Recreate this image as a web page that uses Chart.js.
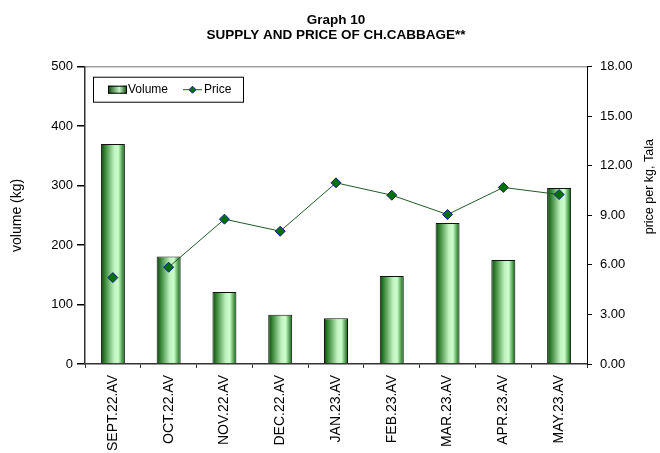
<!DOCTYPE html>
<html>
<head>
<meta charset="utf-8">
<title>Graph 10</title>
<script src="https://cdn.jsdelivr.net/npm/chart.js@4.4.1/dist/chart.umd.min.js"></script>
<style>
    body { margin: 0; background: #fff; }
    #wrap { width: 660px; height: 453px; position: relative; }
</style>
</head>
<body>
<div id="wrap"><canvas id="cabbageChart"></canvas></div>
<script>
var months = ['SEPT.22.AV', 'OCT.22.AV', 'NOV.22.AV', 'DEC.22.AV', 'JAN.23.AV', 'FEB.23.AV', 'MAR.23.AV', 'APR.23.AV', 'MAY.23.AV'];
var volumeKg = [370, 181, 121, 83, 77, 148, 237, 175, 296];
var priceTala = [5.23, 5.86, 8.77, 8.04, 10.97, 10.22, 9.05, 10.69, 10.26];
var volumeTicks = [0, 100, 200, 300, 400, 500];
var priceTicks = [0, 3, 6, 9, 12, 15, 18];
var titleLines = ['Graph 10', 'SUPPLY AND PRICE OF CH.CABBAGE**'];
var priceAxisTitle = 'price per kg, Tala';

var barPct = 0.43;
var lineColor = '#1f5a26';
var fontFamily = '"Liberation Sans", Arial, sans-serif';

Chart.defaults.font.family = fontFamily;
Chart.defaults.font.size = 13;
Chart.defaults.color = '#000';

// cylinder-like shading across each bar
function barGradient(context) {
    var chart = context.chart;
    var xScale = chart.scales.x;
    if (!chart.chartArea || !xScale) {
        return '#7cc47c';
    }
    var cx = xScale.getPixelForValue(context.dataIndex);
    var w = xScale.width / months.length * barPct;
    var g = chart.ctx.createLinearGradient(cx - w / 2, 0, cx + w / 2, 0);
    g.addColorStop(0, '#0a450a');
    g.addColorStop(0.15, '#2f7f2f');
    g.addColorStop(0.55, '#c0f2c0');
    g.addColorStop(0.72, '#ccffcc');
    g.addColorStop(0.9, '#4a9a4a');
    g.addColorStop(1, '#0a450a');
    return g;
}

// legend box inside the plot area + right axis title reading upwards
var extras = {
    id: 'extras',
    afterDraw: function (chart) {
        var ctx = chart.ctx;
        var a = chart.chartArea;
        var x = a.left + 8, y = a.top + 10, w = 150, h = 25;
        ctx.save();
        ctx.fillStyle = '#fff';
        ctx.fillRect(x, y, w, h);
        ctx.strokeStyle = '#000';
        ctx.lineWidth = 1;
        ctx.strokeRect(x + 0.5, y + 0.5, w, h);

        var sx = x + 15, sy = y + 9, sw = 19, sh = 8;
        var g = ctx.createLinearGradient(sx, 0, sx + sw, 0);
        g.addColorStop(0, '#0a450a');
        g.addColorStop(0.6, '#c6f6c6');
        g.addColorStop(1, '#0a450a');
        ctx.fillStyle = g;
        ctx.fillRect(sx, sy, sw, sh);
        ctx.strokeRect(sx + 0.5, sy + 0.5, sw - 1, sh - 1);

        ctx.font = '12px ' + fontFamily;
        ctx.fillStyle = '#000';
        ctx.textBaseline = 'middle';
        ctx.fillText('Volume', sx + sw + 1, y + 13);

        var lx = x + 90, ly = y + 13;
        ctx.strokeStyle = lineColor;
        ctx.beginPath();
        ctx.moveTo(lx, ly);
        ctx.lineTo(lx + 19, ly);
        ctx.stroke();
        ctx.beginPath();
        ctx.moveTo(lx + 9.5, ly - 3.5);
        ctx.lineTo(lx + 13, ly);
        ctx.lineTo(lx + 9.5, ly + 3.5);
        ctx.lineTo(lx + 6, ly);
        ctx.closePath();
        ctx.fillStyle = '#007000';
        ctx.fill();
        ctx.strokeStyle = '#1a1a8c';
        ctx.stroke();
        ctx.fillStyle = '#000';
        ctx.fillText('Price', lx + 21, ly);

        var r = chart.scales.y1;
        ctx.translate(r.right - 10, a.top + 120);
        ctx.rotate(-Math.PI / 2);
        ctx.font = '12.5px ' + fontFamily;
        ctx.textAlign = 'center';
        ctx.fillText(priceAxisTitle, 0, 0);
        ctx.restore();
    }
};

function createChart() {
    var ctx = document.getElementById('cabbageChart').getContext('2d');
    return new Chart(ctx, {
        type: 'bar',
        data: {
            labels: months,
            datasets: [
                {
                    label: 'Volume',
                    data: volumeKg,
                    yAxisID: 'y',
                    order: 2,
                    backgroundColor: barGradient,
                    borderColor: '#111',
                    borderWidth: 1,
                    barPercentage: barPct,
                    categoryPercentage: 1
                },
                {
                    type: 'line',
                    label: 'Price',
                    data: priceTala,
                    yAxisID: 'y1',
                    order: 1,
                    borderColor: lineColor,
                    borderWidth: 1,
                    pointStyle: 'rectRot',
                    pointRadius: 5,
                    pointBackgroundColor: '#007000',
                    pointBorderColor: '#1a1a8c',
                    pointBorderWidth: 1,
                    segment: {
                        // SEPT point stands alone in the original
                        borderColor: function (c) { return c.p0DataIndex === 0 ? 'rgba(0,0,0,0)' : lineColor; }
                    }
                }
            ]
        },
        options: {
            responsive: true,
            maintainAspectRatio: false,
            animation: false,
            layout: { padding: 0 },
            plugins: {
                legend: { display: false },
                tooltip: { enabled: false },
                title: {
                    display: true,
                    text: titleLines,
                    fullSize: false,
                    font: { size: 13.5, weight: 'bold', lineHeight: 1.1 },
                    color: '#000',
                    padding: { top: 13, bottom: 24 }
                }
            },
            scales: {
                x: {
                    afterFit: function (s) { s.height = 89; },
                    grid: { offset: true, drawOnChartArea: false, tickLength: 4, color: '#333' },
                    border: { color: '#333', width: 1.5 },
                    ticks: { autoSkip: false, minRotation: 90, maxRotation: 90, padding: 7, font: { size: 14 } }
                },
                y: {
                    position: 'left',
                    min: 0,
                    max: 500,
                    afterFit: function (s) { s.width = 85; },
                    afterBuildTicks: function (s) { s.ticks = volumeTicks.map(function (v) { return { value: v }; }); },
                    grid: {
                        tickLength: 8,
                        color: function (c) { return c.tick && c.tick.value === 500 ? '#a0a0a0' : 'rgba(0,0,0,0)'; },
                        tickColor: '#000',
                        lineWidth: 1.5
                    },
                    border: { color: '#333', width: 1.5 },
                    ticks: { padding: 4 },
                    title: { display: true, text: 'volume (kg)', font: { size: 14 }, padding: { top: 9, bottom: 0 } }
                },
                y1: {
                    position: 'right',
                    min: 0,
                    max: 18,
                    afterFit: function (s) { s.width = 73; },
                    afterBuildTicks: function (s) { s.ticks = priceTicks.map(function (v) { return { value: v }; }); },
                    grid: { drawOnChartArea: false, tickLength: 5, tickColor: '#000' },
                    border: { color: '#000', width: 1 },
                    ticks: {
                        padding: 8,
                        callback: function (v) { return Number(v).toFixed(2); }
                    }
                }
            }
        },
        plugins: [extras]
    });
}

var chartInstance = createChart();
</script>
</body>
</html>
